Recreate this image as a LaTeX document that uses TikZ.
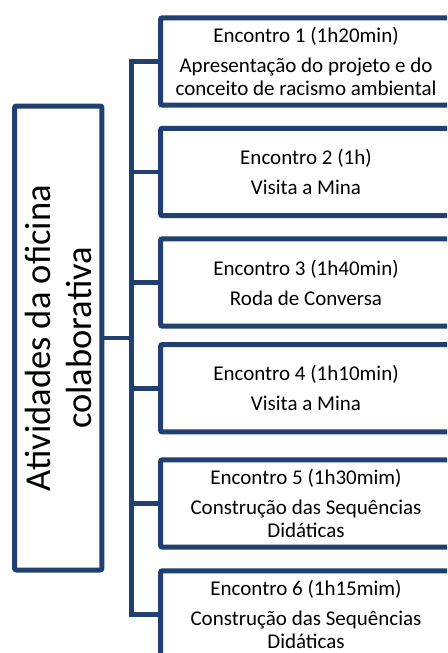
\documentclass[tikz,border=0pt]{standalone}
\usepackage{fontspec}
\setmainfont{Carlito}
\definecolor{navy}{RGB}{31,64,112}
\tikzset{
  ebox/.style={draw=navy, line width=3.75pt, rounded corners=1.5pt, fill=white,
    minimum width=218.25pt, minimum height=65.6pt, inner sep=0pt,
    align=center, font=\fontsize{15.75}{17.6}\selectfont},
  lbox/.style={draw=navy, line width=3.75pt, rounded corners=1.5pt, fill=white,
    minimum width=65.6pt, minimum height=348pt, inner sep=0pt},
  ltext/.style={rotate=90, align=center, inner sep=0pt,
    font=\fontsize{27.4}{30.75}\selectfont},
  conn/.style={draw=navy, line width=3.5pt}
}
\begin{document}
\begin{tikzpicture}[x=0.75pt,y=-0.75pt]
\useasboundingbox (0,0) rectangle (447,653);
\clip (0,0) rectangle (447,653);
\coordinate (trunk) at (131.5,0);
% connectors (drawn first, boxes cover the ends)
\node[lbox] (L) at (58.25,338) {};
\node[ltext] (Lt) at (L.center) {Atividades da oficina\\colaborativa};
\node[ebox] (b1) at (306,61.5) {Encontro 1 (1h20min)\\[4.9pt]Apresentação do projeto e do\\conceito de racismo ambiental};
\node[ebox] (b2) at (306,172) {Encontro 2 (1h)\\[4.9pt]Visita a Mina};
\node[ebox] (b3) at (306,282.5) {Encontro 3 (1h40min)\\[4.9pt]Roda de Conversa};
\node[ebox] (b4) at (306,388.25) {Encontro 4 (1h10min)\\[4.9pt]Visita a Mina};
\node[ebox] (b5) at (306,503.5) {Encontro 5 (1h30mim)\\[4.9pt]Construção das Sequências\\Didáticas};
\node[ebox] (b6) at (306,614.5) {Encontro 6 (1h15mim)\\[4.9pt]Construção das Sequências\\Didáticas};
\draw[conn] (b1.west) -- (b1.west -| trunk) -- (b6.west -| trunk) -- (b6.west);
\draw[conn] (b2.west) -- (b2.west -| trunk);
\draw[conn] (b3.west) -- (b3.west -| trunk);
\draw[conn] (b4.west) -- (b4.west -| trunk);
\draw[conn] (b5.west) -- (b5.west -| trunk);
\draw[conn] (L.east) -- (L.east -| trunk);
\end{tikzpicture}
\end{document}
